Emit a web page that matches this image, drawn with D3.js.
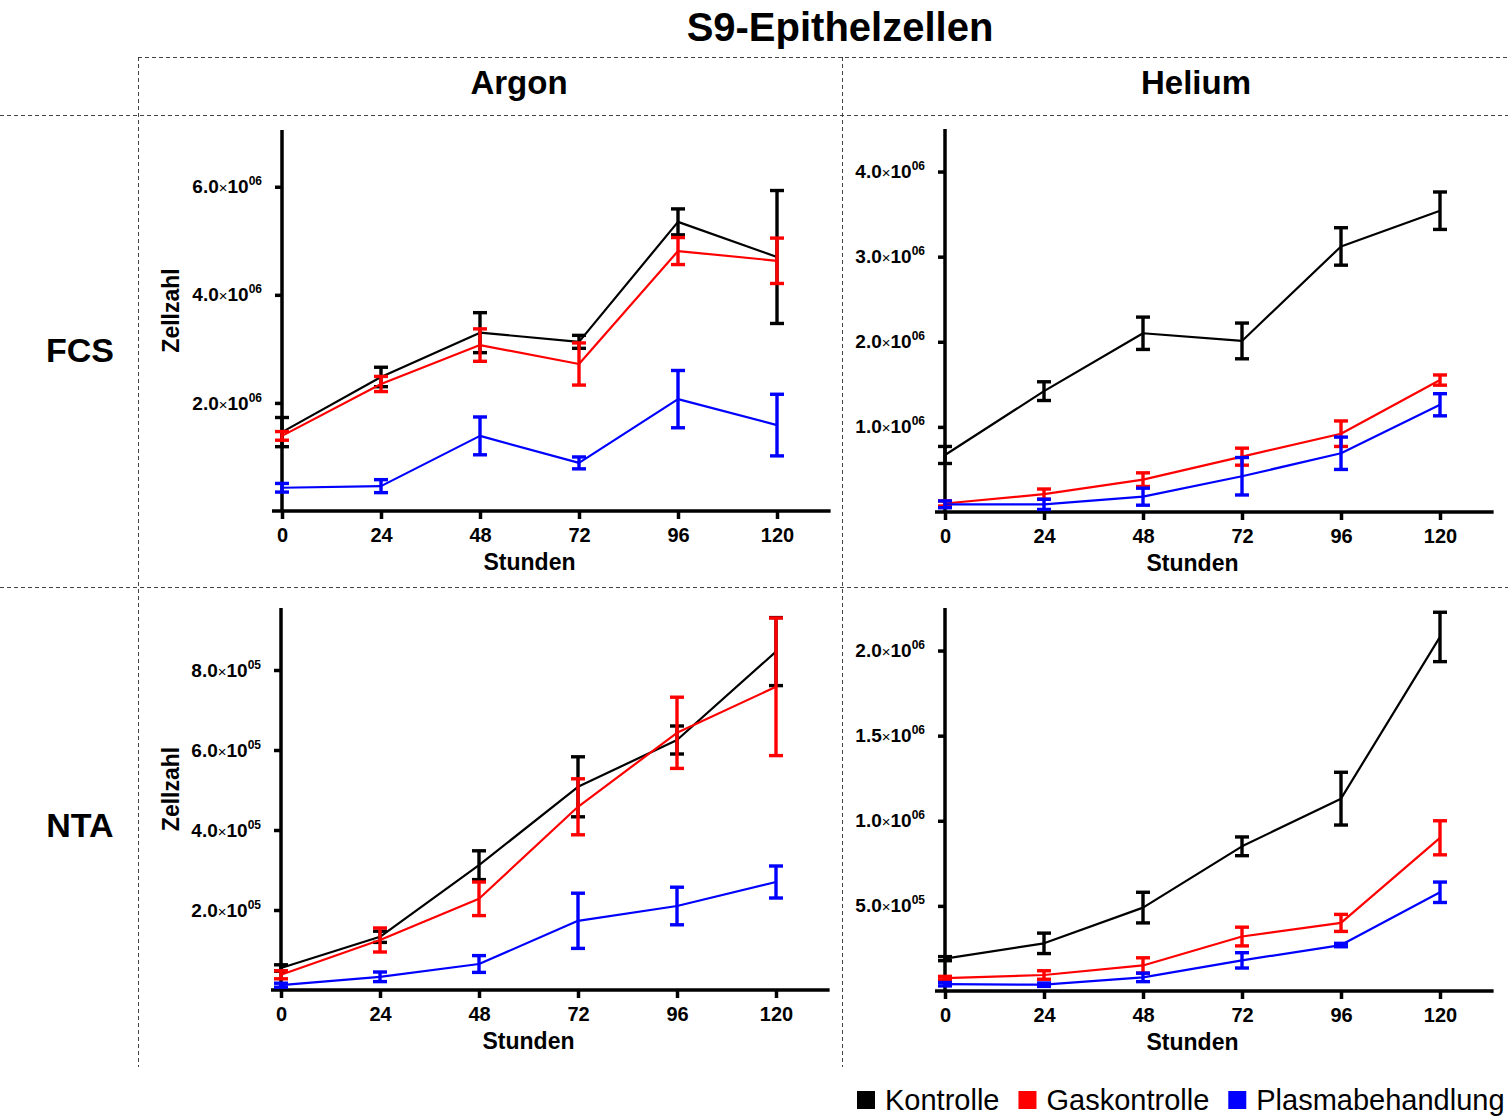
<!DOCTYPE html>
<html>
<head>
<meta charset="utf-8">
<script src="https://cdn.jsdelivr.net/npm/d3@7"></script>
<style>
  body { margin: 0; background: #fff; }
  svg { display: block; }
  text { font-family: "Liberation Sans", Arial, Helvetica, sans-serif; fill: #000; }
</style>
</head>
<body>
<svg id="chart" width="1508" height="1116"></svg>
<script>
// ---- data -------------------------------------------------------------
const hours = [0, 24, 48, 72, 96, 120];
const seriesNames = ["Kontrolle", "Gaskontrolle", "Plasmabehandlung"];
const seriesColors = ["#000000", "#ff0000", "#0000ff"];
const columnTitles = ["Argon", "Helium"];
const rowTitles = ["FCS", "NTA"];

// Argon, FCS (mean and SD per time point)
const argonFcsKontrolle        = [1.46e6, 2.48e6, 3.30e6, 3.13e6, 5.35e6, 4.70e6];
const argonFcsKontrolleSd      = [0.27e6, 0.18e6, 0.37e6, 0.12e6, 0.24e6, 1.23e6];
const argonFcsGaskontrolle     = [1.39e6, 2.35e6, 3.07e6, 2.72e6, 4.81e6, 4.63e6];
const argonFcsGaskontrolleSd   = [0.08e6, 0.14e6, 0.30e6, 0.39e6, 0.25e6, 0.42e6];
const argonFcsPlasma           = [0.43e6, 0.46e6, 1.39e6, 0.89e6, 2.07e6, 1.59e6];
const argonFcsPlasmaSd         = [0.08e6, 0.12e6, 0.35e6, 0.11e6, 0.53e6, 0.57e6];

// Helium, FCS
const heliumFcsKontrolle       = [0.67e6, 1.42e6, 2.10e6, 2.01e6, 3.12e6, 3.54e6];
const heliumFcsKontrolleSd     = [0.10e6, 0.11e6, 0.19e6, 0.21e6, 0.22e6, 0.22e6];
const heliumFcsGaskontrolle    = [0.10e6, 0.21e6, 0.38e6, 0.65e6, 0.92e6, 1.55e6];
const heliumFcsGaskontrolleSd  = [0.03e6, 0.06e6, 0.08e6, 0.10e6, 0.15e6, 0.06e6];
const heliumFcsPlasma          = [0.09e6, 0.09e6, 0.18e6, 0.42e6, 0.69e6, 1.26e6];
const heliumFcsPlasmaSd        = [0.04e6, 0.06e6, 0.10e6, 0.22e6, 0.19e6, 0.13e6];

// Argon, NTA
const argonNtaKontrolle        = [0.55e5, 1.33e5, 3.12e5, 5.08e5, 6.25e5, 8.46e5];
const argonNtaKontrolleSd      = [0.08e5, 0.14e5, 0.36e5, 0.75e5, 0.35e5, 0.85e5];
const argonNtaGaskontrolle     = [0.38e5, 1.25e5, 2.28e5, 4.58e5, 6.43e5, 7.58e5];
const argonNtaGaskontrolleSd   = [0.10e5, 0.30e5, 0.42e5, 0.70e5, 0.89e5, 1.72e5];
const argonNtaPlasma           = [0.12e5, 0.33e5, 0.65e5, 1.73e5, 2.10e5, 2.70e5];
const argonNtaPlasmaSd         = [0.05e5, 0.12e5, 0.21e5, 0.69e5, 0.47e5, 0.40e5];

// Helium, NTA
const heliumNtaKontrolle       = [0.19e6, 0.28e6, 0.49e6, 0.85e6, 1.13e6, 2.08e6];
const heliumNtaKontrolleSd     = [0.012e6, 0.06e6, 0.09e6, 0.055e6, 0.155e6, 0.145e6];
const heliumNtaGaskontrolle    = [0.076e6, 0.094e6, 0.15e6, 0.32e6, 0.40e6, 0.90e6];
const heliumNtaGaskontrolleSd  = [0.01e6, 0.025e6, 0.045e6, 0.055e6, 0.05e6, 0.10e6];
const heliumNtaPlasma          = [0.04e6, 0.037e6, 0.08e6, 0.18e6, 0.27e6, 0.58e6];
const heliumNtaPlasmaSd        = [0.01e6, 0.01e6, 0.025e6, 0.045e6, 0.01e6, 0.06e6];

// y-axis tick values per panel
const argonFcsTicks  = [2e6, 4e6, 6e6];
const heliumFcsTicks = [1e6, 2e6, 3e6, 4e6];
const argonNtaTicks  = [2e5, 4e5, 6e5, 8e5];
const heliumNtaTicks = [5e5, 1e6, 1.5e6, 2e6];

// ---- layout -----------------------------------------------------------
const panels = [
  { col: 0, row: 0, x0: 282, yBase: 511, yTop: 130, yMax: 7.05e6, ticks: argonFcsTicks, yLabel: true,
    series: [[argonFcsKontrolle, argonFcsKontrolleSd], [argonFcsGaskontrolle, argonFcsGaskontrolleSd], [argonFcsPlasma, argonFcsPlasmaSd]] },
  { col: 1, row: 0, x0: 945, yBase: 512, yTop: 129, yMax: 4.5e6, ticks: heliumFcsTicks, yLabel: false,
    series: [[heliumFcsKontrolle, heliumFcsKontrolleSd], [heliumFcsGaskontrolle, heliumFcsGaskontrolleSd], [heliumFcsPlasma, heliumFcsPlasmaSd]] },
  { col: 0, row: 1, x0: 281, yBase: 990, yTop: 608, yMax: 9.55e5, ticks: argonNtaTicks, yLabel: true,
    series: [[argonNtaKontrolle, argonNtaKontrolleSd], [argonNtaGaskontrolle, argonNtaGaskontrolleSd], [argonNtaPlasma, argonNtaPlasmaSd]] },
  { col: 1, row: 1, x0: 945, yBase: 991, yTop: 608, yMax: 2.25e6, ticks: heliumNtaTicks, yLabel: false,
    series: [[heliumNtaKontrolle, heliumNtaKontrolleSd], [heliumNtaGaskontrolle, heliumNtaGaskontrolleSd], [heliumNtaPlasma, heliumNtaPlasmaSd]] }
];

const svg = d3.select("#chart");
svg.append("rect").attr("width", 1508).attr("height", 1116).attr("fill", "#fff");

// ---- dashed frame -------------------------------------------------------
const dash = svg.append("g").attr("stroke", "#444").attr("stroke-width", 1).attr("stroke-dasharray", "4,3");
dash.append("line").attr("x1", 138).attr("x2", 1508).attr("y1", 57.5).attr("y2", 57.5);
dash.append("line").attr("x1", 0).attr("x2", 1508).attr("y1", 115.5).attr("y2", 115.5);
dash.append("line").attr("x1", 0).attr("x2", 1508).attr("y1", 587.5).attr("y2", 587.5);
dash.append("line").attr("x1", 138.5).attr("x2", 138.5).attr("y1", 57).attr("y2", 1067);
dash.append("line").attr("x1", 842.5).attr("x2", 842.5).attr("y1", 57).attr("y2", 1067);

// ---- titles -------------------------------------------------------------
svg.append("text").attr("x", 840).attr("y", 41).attr("text-anchor", "middle")
  .attr("font-size", 40).attr("font-weight", "bold").text("S9-Epithelzellen");
[519, 1196].forEach((cx, i) => {
  svg.append("text").attr("x", cx).attr("y", 94).attr("text-anchor", "middle")
    .attr("font-size", 33).attr("font-weight", "bold").text(columnTitles[i]);
});
[362, 837].forEach((cy, i) => {
  svg.append("text").attr("x", 80).attr("y", cy).attr("text-anchor", "middle")
    .attr("font-size", 34).attr("font-weight", "bold").text(rowTitles[i]);
});

// ---- helpers ------------------------------------------------------------
function sciParts(v) {
  const e = Math.floor(Math.log10(v) + 1e-9);
  const m = v / Math.pow(10, e);
  return [m.toFixed(1), String(e).padStart(2, "0")];
}

function drawPanel(p) {
  const x = d3.scaleLinear().domain([0, 133]).range([p.x0, p.x0 + 495 * 133 / 120]);
  const y = d3.scaleLinear().domain([0, p.yMax]).range([p.yBase, p.yTop]);
  const g = svg.append("g");

  // x axis
  const xa = g.append("g").attr("transform", `translate(0,${p.yBase})`)
    .call(d3.axisBottom(x).tickValues(hours).tickSize(8).tickSizeOuter(0).tickPadding(9));
  xa.select(".domain").remove();
  xa.selectAll(".tick line").attr("stroke", "#000").attr("stroke-width", 3.5);
  xa.selectAll(".tick text").attr("font-family", null).attr("font-size", 20)
    .attr("font-weight", "bold").attr("fill", "#000");
  g.append("line").attr("x1", p.x0 - 10).attr("x2", x(133)).attr("y1", p.yBase).attr("y2", p.yBase)
    .attr("stroke", "#000").attr("stroke-width", 3.5);

  // y axis
  const ya = g.append("g").attr("transform", `translate(${p.x0},0)`)
    .call(d3.axisLeft(y).tickValues(p.ticks).tickSize(7).tickSizeOuter(0).tickPadding(13));
  ya.select(".domain").remove();
  ya.selectAll(".tick line").attr("stroke", "#000").attr("stroke-width", 3.5);
  ya.selectAll(".tick text").attr("font-family", null).attr("font-size", 19)
    .attr("font-weight", "bold").attr("fill", "#0a0a1e")
    .each(function (d) {
      const [m, e] = sciParts(d);
      const t = d3.select(this).text(null);
      t.append("tspan").text(m);
      t.append("tspan").attr("font-weight", "normal").attr("font-size", 15).text("\u00d7");
      t.append("tspan").text("10");
      t.append("tspan").attr("font-size", 12).attr("dy", -8).text(e);
    });
  g.append("line").attr("x1", p.x0).attr("x2", p.x0).attr("y1", p.yTop).attr("y2", p.yBase)
    .attr("stroke", "#000").attr("stroke-width", 3.5);

  // axis titles
  g.append("text").attr("x", (x(0) + x(120)) / 2).attr("y", p.yBase + 59)
    .attr("text-anchor", "middle").attr("font-size", 23).attr("font-weight", "bold").text("Stunden");
  if (p.yLabel) {
    g.append("text")
      .attr("transform", `translate(179,${(p.yBase + p.yTop) / 2 - 10}) rotate(-90)`)
      .attr("text-anchor", "middle").attr("font-size", 23).attr("font-weight", "bold").text("Zellzahl");
  }

  // series: line plus SD error bars
  const line = d3.line().x((d, j) => x(hours[j])).y(d => y(d));
  p.series.forEach(([mean, sd], i) => {
    const color = seriesColors[i];
    const sg = g.append("g");
    sg.append("path").attr("d", line(mean)).attr("fill", "none")
      .attr("stroke", color).attr("stroke-width", 2.2).attr("stroke-linejoin", "round");
    const eb = sg.append("g").attr("stroke", color).attr("stroke-width", 3.4);
    mean.forEach((m, j) => {
      const cx = x(hours[j]);
      const yt = y(m + sd[j]), yb = y(Math.max(0, m - sd[j]));
      eb.append("line").attr("x1", cx).attr("x2", cx).attr("y1", yt).attr("y2", yb);
      eb.append("line").attr("x1", cx - 7).attr("x2", cx + 7).attr("y1", yt).attr("y2", yt);
      eb.append("line").attr("x1", cx - 7).attr("x2", cx + 7).attr("y1", yb).attr("y2", yb);
    });
  });
}

panels.forEach(drawPanel);

// ---- legend -------------------------------------------------------------
const legend = svg.append("g");
let lx = 857;
seriesNames.forEach((name, i) => {
  legend.append("rect").attr("x", lx).attr("y", 1091).attr("width", 18).attr("height", 18)
    .attr("fill", seriesColors[i]);
  const t = legend.append("text").attr("x", lx + 28).attr("y", 1110)
    .attr("font-size", 29).text(name);
  lx += 28 + t.node().getComputedTextLength() + 19;
});
</script>
</body>
</html>
